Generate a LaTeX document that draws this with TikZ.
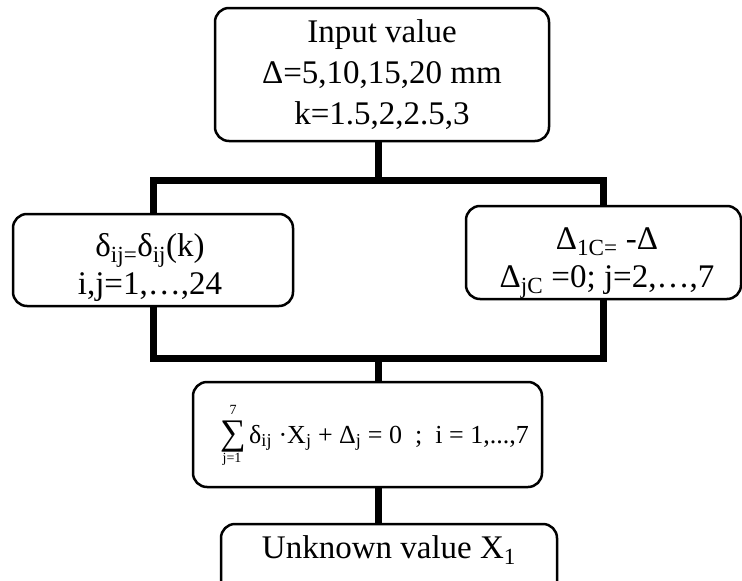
\documentclass[tikz,border=0pt]{standalone}
\usepackage{fontspec}
\setmainfont{Liberation Serif}
\begin{document}
\begin{tikzpicture}[x=1pt,y=-1pt,
  box/.style={draw, line width=2.5pt, rounded corners=14pt, align=center, inner sep=0pt},
  txt/.style={font=\fontsize{33}{38}\selectfont, align=center, inner sep=0pt},
  lim/.style={font=\fontsize{14}{14}\selectfont, inner sep=0pt, anchor=base},
  conn/.style={line width=7pt, line join=miter}]
\useasboundingbox (0,0) rectangle (742,581);
\clip (0,0) rectangle (742,581);
\node[box, txt, font=\fontsize{33}{41}\selectfont, minimum width=334pt, minimum height=133pt] (top) at (382,74.5)
  {Input value\\Δ=5,10,15,20 mm\\k=1.5,2,2.5,3};
\node[box, minimum width=280pt, minimum height=92pt] (left) at (153,260) {};
\node[txt] (lefttext) at (150,267)
  {δ\textsubscript{ij=}δ\textsubscript{ij}(k)\\i,j=1,…,24};
\node[box, minimum width=275pt, minimum height=93pt] (right) at (603.5,252.5) {};
\node[txt] (righttext) at (607,263)
  {Δ\textsubscript{1C=} -Δ\\Δ\textsubscript{jC} =0; j=2,…,7};
\node[box, minimum width=349pt, minimum height=105pt] (mid) at (367.5,434.5) {};
\node[inner sep=0pt, anchor=base, text height=25pt, text depth=4pt, font=\fontsize{36}{36}\selectfont] (sum) at (233,444) {∑};
\node[lim] (sumtop) at (233,414) {7};
\node[lim] (sumbot) at (232,462) {j=1};
\node[inner sep=0pt, anchor=base west, font=\fontsize{26}{30}\selectfont] (formula) at (249,443)
  {δ\textsubscript{ij} ·X\textsubscript{j} + Δ\textsubscript{j} = 0 \ ; \ i = 1,...,7};
\node[box, minimum width=336pt, minimum height=80pt] (bot) at (389,564) {};
\node[txt] (bottext) at (389,550) {Unknown value X\textsubscript{1}};
\coordinate (j1) at (378,180);
\coordinate (j2) at (378,358);
\draw[conn] (top.south -| j1) -- (j1);
\draw[conn] (left.north) -- (left.north |- j1) -- (right.north |- j1) -- (right.north);
\draw[conn] (left.south) -- (left.south |- j2) -- (right.south |- j2) -- (right.south);
\draw[conn] (j2) -- (j2 |- mid.north);
\draw[conn] (mid.south -| j2) -- (j2 |- bot.north);
\end{tikzpicture}
\end{document}
